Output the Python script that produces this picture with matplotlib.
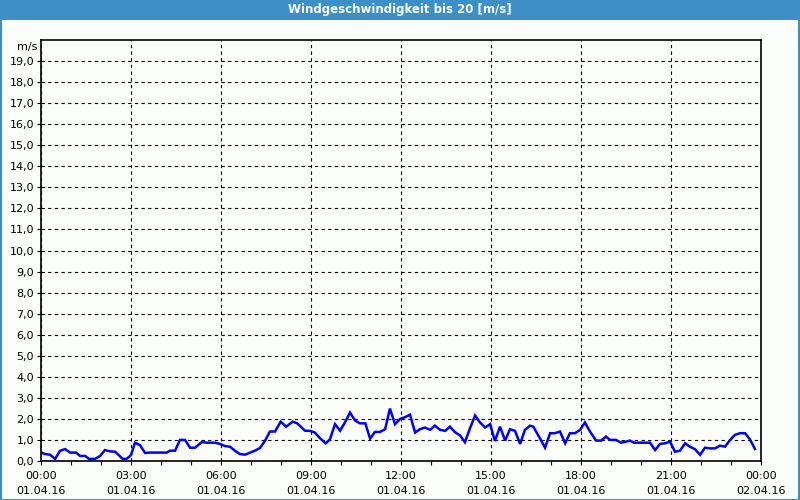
import matplotlib
matplotlib.use("Agg")
import matplotlib.pyplot as plt
from matplotlib.patches import Rectangle

# Wind speed, hours since 01.04.16 00:00
hours = [0.0, 0.13, 0.3, 0.47, 0.63, 0.8, 0.97, 1.17, 1.3, 1.47, 1.6, 1.8, 1.97, 2.13, 2.3, 2.47,
         2.6, 2.72, 2.85, 3.0, 3.13, 3.3, 3.47, 3.63, 4.19, 4.3, 4.47, 4.63, 4.8, 4.97, 5.13, 5.36,
         5.52, 5.8, 5.97, 6.13, 6.3, 6.47, 6.63, 6.8, 6.97, 7.13, 7.3, 7.47, 7.63, 7.8, 7.99, 8.17,
         8.39, 8.54, 8.8, 8.97, 9.13, 9.3, 9.49, 9.63, 9.8, 9.97, 10.13, 10.3, 10.47, 10.63, 10.81,
         10.97, 11.13, 11.3, 11.47, 11.63, 11.8, 11.97, 12.13, 12.3, 12.47, 12.63, 12.8, 12.97,
         13.13, 13.3, 13.47, 13.63, 13.8, 13.97, 14.13, 14.3, 14.47, 14.63, 14.8, 14.97, 15.13,
         15.3, 15.47, 15.63, 15.8, 15.97, 16.13, 16.3, 16.41, 16.61, 16.8, 16.97, 17.13, 17.3,
         17.47, 17.63, 17.8, 17.97, 18.13, 18.3, 18.5, 18.67, 18.83, 18.97, 19.17, 19.33, 19.5,
         19.63, 19.77, 20.3, 20.47, 20.63, 20.8, 20.97, 21.13, 21.3, 21.47, 21.63, 21.8, 21.97,
         22.13, 22.3, 22.47, 22.63, 22.8, 22.97, 23.13, 23.3, 23.47, 23.63, 23.8]
speed = [0.41, 0.33, 0.3, 0.1, 0.48, 0.57, 0.4, 0.4, 0.24, 0.24, 0.1, 0.1, 0.24, 0.52, 0.46, 0.44,
         0.27, 0.1, 0.1, 0.28, 0.87, 0.75, 0.38, 0.4, 0.4, 0.49, 0.49, 1.0, 1.0, 0.63, 0.63, 0.9,
         0.87, 0.87, 0.81, 0.71, 0.68, 0.48, 0.33, 0.3, 0.4, 0.49, 0.62, 0.97, 1.4, 1.4, 1.87, 1.63,
         1.87, 1.79, 1.44, 1.43, 1.35, 1.08, 0.84, 1.03, 1.75, 1.44, 1.83, 2.3, 1.92, 1.79, 1.79,
         1.06, 1.38, 1.38, 1.51, 2.49, 1.75, 2.0, 2.08, 2.2, 1.35, 1.51, 1.59, 1.48,
         1.68, 1.48, 1.43, 1.63, 1.37, 1.21, 0.89, 1.56, 2.16, 1.84, 1.59, 1.75, 0.95,
         1.63, 0.97, 1.51, 1.43, 0.81, 1.48, 1.68, 1.63, 1.13, 0.63, 1.32, 1.32, 1.4,
         0.84, 1.32, 1.32, 1.48, 1.83, 1.4, 0.97, 0.97, 1.16, 1.0, 1.0, 0.87, 0.92,
         0.97, 0.87, 0.87, 0.52, 0.81, 0.84, 0.92, 0.44, 0.49, 0.84, 0.68, 0.56, 0.29,
         0.63, 0.6, 0.6, 0.73, 0.68, 1.0, 1.24, 1.32, 1.32, 1.03, 0.57]

x_ticks = [0, 3, 6, 9, 12, 15, 18, 21, 24]
x_labels = ["00:00\n01.04.16", "03:00\n01.04.16", "06:00\n01.04.16", "09:00\n01.04.16",
            "12:00\n01.04.16", "15:00\n01.04.16", "18:00\n01.04.16", "21:00\n01.04.16",
            "00:00\n02.04.16"]
y_ticks = list(range(0, 20))
y_labels = [f"{v},0" for v in y_ticks]
title = "Windgeschwindigkeit bis 20 [m/s]"

bg = "#fbfefb"
frame_blue = "#3d8fc7"

fig = plt.figure(figsize=(8, 5), dpi=100, facecolor=bg)
ax = fig.add_axes([41 / 800, 39 / 500, 720 / 800, 421 / 500])
ax.set_facecolor(bg)

ax.plot(hours, speed, color="#0000ff", lw=1.8, solid_joinstyle="miter")

ax.set_xlim(0, 24)
ax.set_ylim(0, 20)
ax.set_xticks(x_ticks)
ax.set_xticklabels(x_labels, fontsize=8, linespacing=1.6)
ax.set_xticks(range(0, 25), minor=True)
ax.set_yticks(y_ticks)
ax.set_yticklabels(y_labels, fontsize=8)
ax.tick_params(axis="both", which="both", direction="out", length=3, width=0.8, pad=2, colors="black")
ax.tick_params(axis="x", which="major", pad=4)

ax.grid(True, which="major", color="black", linestyle=(0, (3, 3)), linewidth=0.8)
for s in ax.spines.values():
    s.set_linewidth(1.2)
    s.set_color("black")

fig.text(27 / 800, 1 - 47 / 500, "m/s", fontsize=8, ha="center", va="center")

# title bar and border
fig.patches.append(Rectangle((0, 1 - 20 / 500), 1, 20 / 500, transform=fig.transFigure,
                             facecolor=frame_blue, edgecolor="none", zorder=0))
fig.patches.append(Rectangle((0.5 / 800, 0.5 / 500), 798.5 / 800, 498 / 500, transform=fig.transFigure,
                             facecolor="none", edgecolor=frame_blue, linewidth=1.5, zorder=5))
fig.text(0.5, 1 - 10 / 500, title, color="white", fontsize=8.5, fontweight="bold",
         ha="center", va="center")

fig.savefig("out.png", dpi=100, facecolor=bg)
